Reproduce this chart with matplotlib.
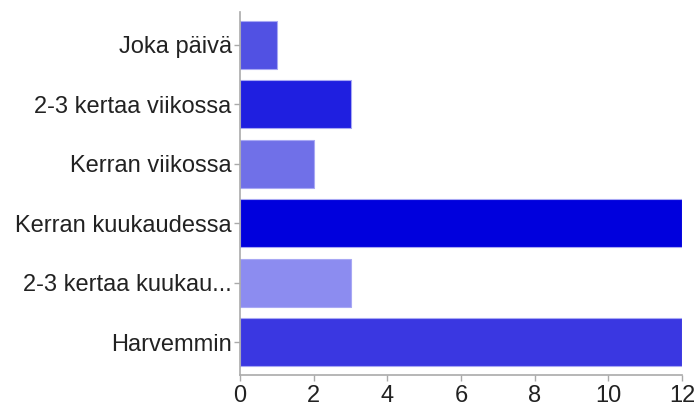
import matplotlib.pyplot as plt

plt.rcParams['font.family'] = ['Liberation Sans', 'DejaVu Sans']

kategoriat = ["Joka päivä", "2-3 kertaa viikossa", "Kerran viikossa",
              "Kerran kuukaudessa", "2-3 kertaa kuukau...", "Harvemmin"]
maarat = [1, 3, 2, 12, 3, 12]
varit = ["#5151e3", "#1f1fe0", "#7070e8", "#0000dd", "#8c8cf0", "#3a37e1"]
x_tikit = [0, 2, 4, 6, 8, 10, 12]

fig = plt.figure(figsize=(6.95, 4.07), dpi=100)
ax = fig.add_axes([240 / 695, 32 / 407, 442 / 695, 363 / 407])

y = range(len(kategoriat))
ax.barh(y, maarat, height=0.8, color=varit, edgecolor="#a8a8f4", linewidth=0.8)
ax.set_ylim(len(kategoriat) - 0.45, -0.55)
ax.set_xlim(0, 12)
ax.set_yticks(list(y))
ax.set_yticklabels(kategoriat)
ax.set_xticks(x_tikit)
ax.set_xticklabels([str(t) for t in x_tikit])

for s in ["top", "right"]:
    ax.spines[s].set_visible(False)
for s in ["left", "bottom"]:
    ax.spines[s].set_color("#aaaaaa")
    ax.spines[s].set_linewidth(1.2)
ax.tick_params(axis="both", colors="#aaaaaa", labelcolor="#222222",
               labelsize=17, length=4, width=1)
ax.tick_params(axis="y", pad=2)
ax.tick_params(axis="x", pad=3)

plt.savefig("out.png", dpi=100)
